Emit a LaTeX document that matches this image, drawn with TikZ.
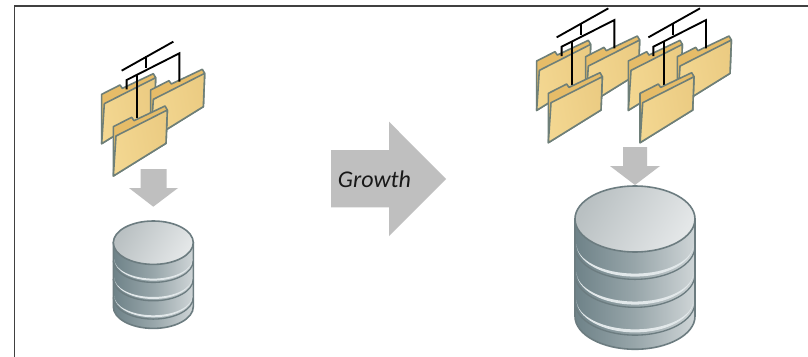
\documentclass[tikz,border=0pt]{standalone}
\usepackage{fontspec}
\setmainfont{Carlito}
\usetikzlibrary{calc}
\definecolor{tanback}{HTML}{E6BC68}
\definecolor{tanlight}{HTML}{F3D791}
\definecolor{tandark}{HTML}{EBCB82}
\definecolor{foldedge}{HTML}{6E7F78}
\definecolor{arrowgrey}{HTML}{BFBFBF}
\definecolor{dbedge}{HTML}{6C7C80}
\definecolor{dbdark}{HTML}{6E8288}
\definecolor{dbmid}{HTML}{98A6AA}
\definecolor{dblight}{HTML}{CFD5D7}
\definecolor{dbtopa}{HTML}{B9C0C2}
\definecolor{dbtopb}{HTML}{E4E7E8}
\definecolor{dbband}{HTML}{E2E8EA}
\tikzset{
  blockarrow/.style={fill=arrowgrey,draw=none},
  foldline/.style={draw=foldedge,line width=1.2pt,line join=round},
  treeline/.style={draw=black,line width=1.4pt},
  folderpic/.pic={
    \path[foldline,fill=tanback] (100,290)--(155,262)--(162,272)--(255,228)--(262,240)--(258,340)--(100,438)--cycle;
    \path[foldline,left color=tanlight,right color=tandark,shading angle=100] (108,318)--(262,240)--(258,340)--(100,438)--cycle;
  },
  grouppic/.pic={
    \pic at (-35,-97) {folderpic};
    \pic at (112,-110) {folderpic};
    \draw[treeline] (125,122)--(280,35);
    \draw[treeline] (198,78)--(198,115);
    \draw[treeline] (140,178)--(140,150)--(298,70)--(298,155);
    \draw[treeline] (172,132)--(172,265);
    \pic at (0,0) {folderpic};
  },
  dbpic/.pic={
    \path[left color=dbdark,right color=dblight,middle color=dbmid,draw=dbedge,line width=1.2pt]
      (-40,0) -- (-40,64) arc[start angle=180,end angle=0,x radius=40,y radius=21.7] -- (40,0) -- cycle;
    \foreach \yy in {54.7,36.4,18}{
      \draw[dbedge,line width=1pt] (-40,\yy) arc[start angle=180,end angle=0,x radius=40,y radius=21.7];
      \fill[dbband] (-39,\yy-1.5) arc[start angle=180,end angle=0,x radius=39,y radius=21.4]
        arc[start angle=0,end angle=180,x radius=39,y radius=19.4] -- cycle;
    }
    \path[left color=dbtopa,right color=dbtopb,shading angle=60,draw=dbedge,line width=1.2pt]
      (0,0) ellipse[x radius=40,y radius=21.7];
  }
}
\begin{document}
\begin{tikzpicture}[x=0.75pt,y=-0.75pt]
\useasboundingbox (0,0) rectangle (808,357);
\fill[white] (0,0) rectangle (808,357);
\coordinate (frameA) at (14.5,357);
\coordinate (frameB) at (14.5,6);
\coordinate (frameC) at (808,6);
\draw[draw=black!75,line width=1.4pt] (frameA)--(frameB)--(frameC);
% left group
\begin{scope}[shift={(80,30)},x=0.25pt,y=-0.25pt]
  \pic at (0,0) {grouppic};
\end{scope}
\begin{scope}[shift={(515,-3.3)},x=0.25pt,y=-0.25pt]
  \pic at (0,0) {grouppic};
\end{scope}
\begin{scope}[shift={(606.7,-3.3)},x=0.25pt,y=-0.25pt]
  \pic at (0,0) {grouppic};
\end{scope}
% down arrows
\path[blockarrow] (140.7,169)--(166.7,169)--(166.7,188)--(178,188)--(153.3,206.7)--(129,188)--(140.7,188)--cycle;
\path[blockarrow] (623,147)--(647,147)--(647,166)--(660,166)--(635,185)--(610,166)--(623,166)--cycle;
% databases
\begin{scope}[shift={(153.3,242.7)}]
  \pic at (0,0) {dbpic};
\end{scope}
\begin{scope}[shift={(635,219)},x=1.125pt,y=-1.14pt]
  \pic at (0,0) {dbpic};
\end{scope}
% growth
\path[blockarrow] (331,150)--(389,150)--(389,121.7)--(446,179)--(389,236)--(389,207.3)--(331,207.3)--cycle;
\node[inner sep=0pt,font=\itshape\fontsize{18}{18}\selectfont,text=black!90] (growth) at (374.5,179) {Growth};
\end{tikzpicture}
\end{document}
